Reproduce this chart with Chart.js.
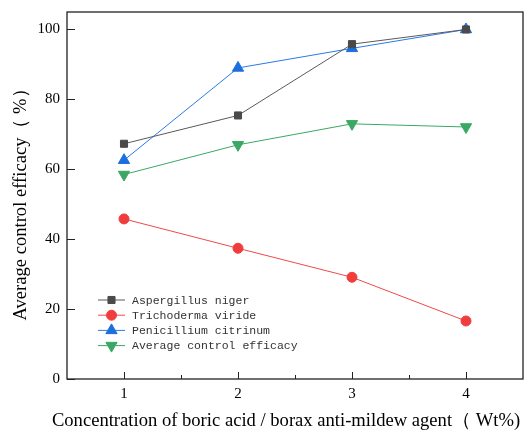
<!DOCTYPE html>
<html><head><meta charset="utf-8">
<script src="https://cdn.jsdelivr.net/npm/chart.js@4"></script>
<style>html,body{margin:0;padding:0;background:#fff}#w{width:528px;height:432px}</style>
</head><body><div id="w"><canvas id="c" width="528" height="432"></canvas></div>
<script>
const concentrations = [1, 2, 3, 4];
const aspergillus = [67.3, 75.4, 95.8, 100];
const trichoderma = [45.8, 37.4, 29.1, 16.6];
const penicillium = [62.6, 89.0, 94.6, 100];
const averageEff = [58.5, 67.0, 73.0, 72.1];
const seriesNames = ['Aspergillus niger', 'Trichoderma viride', 'Penicillium citrinum', 'Average control efficacy'];
const yTicks = [0, 20, 40, 60, 80, 100];
const xTicks = [1, 2, 3, 4];
const xMinor = [1.5, 2.5, 3.5];

const mk = (vals) => concentrations.map((x, i) => ({x, y: vals[i]}));

const framePlugin = {
  id: 'frame',
  beforeDatasetsDraw(chart) {
    const ctx = chart.ctx, a = chart.chartArea;
    const xs = chart.scales.x, ys = chart.scales.y;
    ctx.save();
    ctx.strokeStyle = '#222';
    ctx.lineWidth = 1.3;
    ctx.strokeRect(a.left, a.top, a.right - a.left, a.bottom - a.top);
    ctx.lineWidth = 1;
    ctx.beginPath();
    yTicks.forEach(v => { const y = Math.round(ys.getPixelForValue(v)) + 0.5; ctx.moveTo(a.left, y); ctx.lineTo(a.left + 8, y); });
    xTicks.forEach(v => { const x = Math.round(xs.getPixelForValue(v)) + 0.5; ctx.moveTo(x, a.bottom); ctx.lineTo(x, a.bottom - 7); });
    xMinor.forEach(v => { const x = Math.round(xs.getPixelForValue(v)) + 0.5; ctx.moveTo(x, a.bottom); ctx.lineTo(x, a.bottom - 4); });
    ctx.stroke();
    ctx.restore();
  }
};

const legendPlugin = {
  id: 'insideLegend',
  afterDatasetsDraw(chart) {
    const ctx = chart.ctx;
    ctx.save();
    chart.data.datasets.forEach((ds, i) => {
      const y = 300 + i * 15.2;
      ctx.strokeStyle = ds.borderColor;
      ctx.lineWidth = 1;
      ctx.beginPath(); ctx.moveTo(98, y); ctx.lineTo(125, y); ctx.stroke();
      ctx.fillStyle = ds.pointBackgroundColor;
      ctx.strokeStyle = ds.pointBackgroundColor;
      Chart.helpers.drawPoint(ctx, {pointStyle: ds.pointStyle, radius: ds.pointRadius, rotation: ds.pointRotation || 0, borderWidth: 1}, 111.5, y);
      ctx.fillStyle = '#333';
      ctx.font = '11.5px "Liberation Mono", monospace';
      ctx.textBaseline = 'middle';
      ctx.textAlign = 'left';
      ctx.fillText(ds.label, 132, y + 0.5);
    });
    ctx.restore();
  }
};

const titlePlugin = {
  id: 'titles',
  afterDraw(chart) {
    const ctx = chart.ctx;
    ctx.save();
    ctx.fillStyle = '#000';
    ctx.font = '18.6px "Liberation Serif", serif';
    ctx.textAlign = 'center';
    ctx.textBaseline = 'middle';
    ctx.fillText('Concentration of boric acid / borax anti-mildew agent（ Wt%)', 286, 421);
    ctx.translate(21, 200);
    ctx.rotate(-Math.PI / 2);
    ctx.fillText('Average control efficacy（ %）', 0, 0);
    ctx.restore();
  }
};

const common = {borderWidth: 1, fill: false, tension: 0, pointBorderWidth: 1};
new Chart(document.getElementById('c'), {
  type: 'line',
  data: {
    datasets: [
      {...common, label: seriesNames[0], data: mk(aspergillus), borderColor: '#5a5a5a', pointBackgroundColor: '#4a4a4a', pointBorderColor: '#4a4a4a', pointStyle: 'rect', pointRadius: 5},
      {...common, label: seriesNames[1], data: mk(trichoderma), borderColor: '#f04848', pointBackgroundColor: '#f03c3c', pointBorderColor: '#f03c3c', pointStyle: 'circle', pointRadius: 5},
      {...common, label: seriesNames[2], data: mk(penicillium), borderColor: '#2a7ae8', pointBackgroundColor: '#1c6fdc', pointBorderColor: '#1c6fdc', pointStyle: 'triangle', pointRadius: 6.5},
      {...common, label: seriesNames[3], data: mk(averageEff), borderColor: '#3aa864', pointBackgroundColor: '#3aa864', pointBorderColor: '#3aa864', pointStyle: 'triangle', pointRotation: 180, pointRadius: 6.5}
    ]
  },
  options: {
    responsive: false,
    animation: false,
    clip: false,
    layout: {autoPadding: false, padding: {left: 0, right: 5, top: 12, bottom: 0}},
    plugins: {legend: {display: false}, tooltip: {enabled: false}},
    scales: {
      x: {
        type: 'linear', min: 0.5, max: 4.5,
        afterBuildTicks: (s) => { s.ticks = xTicks.map(v => ({value: v})); },
        afterFit: (s) => { s.height = 53; s.paddingLeft = 0; s.paddingRight = 0; },
        border: {display: false},
        grid: {display: false, drawTicks: false, tickLength: 0},
        ticks: {
          autoSkip: false, maxRotation: 0, padding: 6,
          color: '#000', font: {family: '"Liberation Serif", serif', size: 15}
        }
      },
      y: {
        min: 0, max: 105,
        afterBuildTicks: (s) => { s.ticks = yTicks.map(v => ({value: v})); },
        afterFit: (s) => { s.width = 67; s.paddingTop = 0; s.paddingBottom = 0; },
        border: {display: false},
        grid: {display: false, drawTicks: false, tickLength: 0},
        ticks: {
          color: '#000', padding: 7, font: {family: '"Liberation Serif", serif', size: 15}
        }
      }
    }
  },
  plugins: [framePlugin, legendPlugin, titlePlugin]
});
</script>
</body></html>
